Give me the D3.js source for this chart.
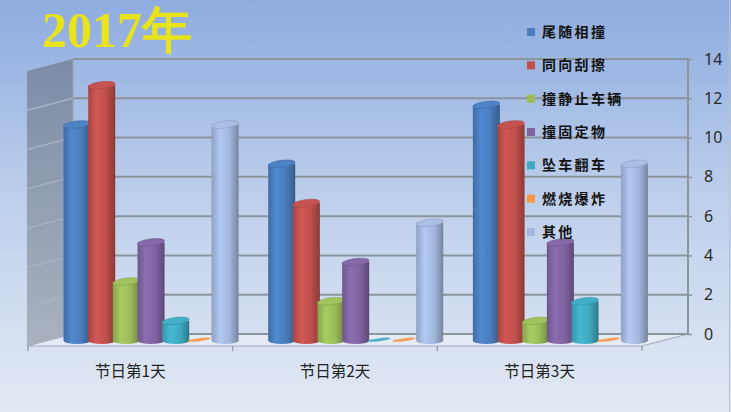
<!DOCTYPE html>
<html>
<head>
<meta charset="utf-8">
<script src="https://cdn.jsdelivr.net/npm/d3@7/dist/d3.min.js"></script>
<style>
html,body{margin:0;padding:0;overflow:hidden;}
svg{display:block;}
</style>
</head>
<body>
<svg id="chart" width="731" height="412"></svg>
<script>
// ---- data ----
const days = ["节日第1天", "节日第2天", "节日第3天"];
const seriesNames = ["尾随相撞", "同向刮擦", "撞静止车辆", "撞固定物", "坠车翻车", "燃烧爆炸", "其他"];
const rearEnd   = [11, 9, 12];
const scrape    = [13, 7, 11];
const parked    = [3, 2, 1];
const fixedObj  = [5, 4, 5];
const rollover  = [1, 0, 2];
const fire      = [0, 0, 0];
const other     = [11, 6, 9];
const yTicks = [0, 2, 4, 6, 8, 10, 12, 14];
const titleText = "2017年";

const seriesValues = [rearEnd, scrape, parked, fixedObj, rollover, fire, other];
const colors = ["#4a7dbd", "#c0504d", "#9bbb59", "#8064a2", "#3fa9c0", "#f79646", "#a3b8de"];

// ---- layout ----
const W = 731, H = 412;
const svg = d3.select("#chart");
const defs = svg.append("defs");

const frontLeft = 27, frontRight = 642, frontY0 = 346;
const depthDX = 46, depthDY = -12;
const backLeft = frontLeft + depthDX, backRight = frontRight + depthDX;

const y = d3.scaleLinear().domain([0, 14]).range([334, 59]);
const x0 = d3.scaleBand().domain(days).range([frontLeft + 1, frontRight]);
const x1 = d3.scaleBand().domain(seriesNames).range([16, x0.bandwidth() - 16]);

// background
const bg = defs.append("linearGradient").attr("id", "bg").attr("x1", 0).attr("y1", 0).attr("x2", 0).attr("y2", 1);
bg.append("stop").attr("offset", "0").attr("stop-color", "#8eacdf");
bg.append("stop").attr("offset", "0.5").attr("stop-color", "#bfd0ec");
bg.append("stop").attr("offset", "1").attr("stop-color", "#e3e9f3");
svg.append("rect").attr("width", W).attr("height", H).attr("fill", "url(#bg)");
svg.append("line").attr("x1", W - 1.5).attr("x2", W - 1.5).attr("y1", 0).attr("y2", H)
  .attr("stroke", "#b8c2cf").attr("stroke-width", 1);

// left side wall
const wallG = defs.append("linearGradient").attr("id", "wall").attr("x1", 0).attr("y1", 0).attr("x2", 0).attr("y2", 1);
wallG.append("stop").attr("offset", "0").attr("stop-color", "#7c8ca6");
wallG.append("stop").attr("offset", "1").attr("stop-color", "#a9b1bd");
svg.append("polygon")
  .attr("points", [[frontLeft, y(0) - depthDY], [frontLeft, y(14) - depthDY], [backLeft, y(14)], [backLeft, y(0)]].map(p => p.join(",")).join(" "))
  .attr("fill", "url(#wall)");

// left wall gridlines
svg.append("g").selectAll("line").data(yTicks.slice(1, -1)).join("line")
  .attr("x1", frontLeft).attr("x2", backLeft)
  .attr("y1", d => y(d) - depthDY).attr("y2", d => y(d))
  .attr("stroke", "#a7b3c4").attr("stroke-width", 1.5);

// floor
svg.append("polygon")
  .attr("points", [[frontLeft, frontY0], [frontRight, frontY0], [backRight, y(0)], [backLeft, y(0)]].map(p => p.join(",")).join(" "))
  .attr("fill", "#e4ebf5").attr("stroke", "#a4acb6").attr("stroke-width", 1.2);

// back wall gridlines
svg.append("g").selectAll("line").data(yTicks).join("line")
  .attr("x1", backLeft).attr("x2", backRight)
  .attr("y1", d => y(d)).attr("y2", d => y(d))
  .attr("stroke", "#8c949e").attr("stroke-width", 2);
svg.append("line").attr("x1", backRight).attr("x2", backRight).attr("y1", y(14)).attr("y2", y(0))
  .attr("stroke", "#8c949e").attr("stroke-width", 2);
svg.append("line").attr("x1", backLeft).attr("x2", backLeft).attr("y1", y(14)).attr("y2", y(0))
  .attr("stroke", "#9aa4b2").attr("stroke-width", 1);

// right value axis
const yAxis = d3.axisRight(y).tickValues(yTicks).tickSize(4).tickPadding(12).tickFormat(d3.format("d"));
const ya = svg.append("g").attr("transform", `translate(${backRight},0)`).call(yAxis);
ya.select(".domain").remove();
ya.selectAll("line").attr("stroke", "#8c949e").attr("stroke-width", 1.5);
ya.selectAll("text").attr("font-family", "'Noto Sans', 'DejaVu Sans', sans-serif").attr("font-size", 16).attr("fill", "#2a2a2a");

// category axis
const xAxis = d3.axisBottom(x0).tickSize(0).tickPadding(20);
const xa = svg.append("g").attr("transform", `translate(0,${frontY0})`).call(xAxis);
xa.select(".domain").remove();
xa.selectAll("text").attr("font-family", "'Noto Sans CJK SC', sans-serif").attr("font-size", 15.5).attr("fill", "#222");
// boundary ticks
const bounds = days.map(d => x0(d)).concat([x0(days[days.length - 1]) + x0.bandwidth()]);
svg.append("g").selectAll("line").data(bounds).join("line")
  .attr("x1", d => d).attr("x2", d => d).attr("y1", frontY0).attr("y2", frontY0 + 5)
  .attr("stroke", "#8c949e").attr("stroke-width", 1.2);

// cylinder gradients
colors.forEach((c, i) => {
  const base = d3.color(c);
  const g = defs.append("linearGradient").attr("id", "cyl" + i).attr("x1", 0).attr("y1", 0).attr("x2", 1).attr("y2", 0);
  g.append("stop").attr("offset", "0").attr("stop-color", base.darker(0.4));
  g.append("stop").attr("offset", "0.3").attr("stop-color", base.brighter(0.25));
  g.append("stop").attr("offset", "0.65").attr("stop-color", base);
  g.append("stop").attr("offset", "0.9").attr("stop-color", base.darker(0.6));
  g.append("stop").attr("offset", "1").attr("stop-color", base.darker(1.0));
});

// bars
const barFrac = 0.45;
const bdx = depthDX * barFrac, bdy = -depthDY * (1 - barFrac);
const barW = 27, ry = 3.5;
const barsG = svg.append("g");
days.forEach((day, di) => {
  seriesNames.forEach((s, si) => {
    const v = seriesValues[si][di];
    const cx = x0(day) + x1(s) + x1.bandwidth() / 2 + bdx;
    const yb = y(0) + bdy;
    const yt = y(v) + bdy;
    const g = barsG.append("g");
    const col = d3.color(colors[si]);
    if (v > 0) {
      g.append("path")
        .attr("d", `M${cx - barW / 2},${yt} L${cx - barW / 2},${yb} A${barW / 2},${ry} 0 0 0 ${cx + barW / 2},${yb} L${cx + barW / 2},${yt} Z`)
        .attr("fill", `url(#cyl${si})`);
      g.append("ellipse")
        .attr("cx", cx).attr("cy", yt).attr("rx", barW / 2).attr("ry", ry)
        .attr("transform", `rotate(-7,${cx},${yt})`)
        .attr("fill", col.brighter(0.1)).attr("stroke", col.darker(0.4)).attr("stroke-width", 0.6);
    } else {
      g.append("ellipse")
        .attr("cx", cx - 1).attr("cy", yb - 1).attr("rx", barW / 2 - 2).attr("ry", 1.6)
        .attr("transform", `rotate(-7,${cx},${yb})`)
        .attr("fill", col).attr("opacity", 0.9);
    }
  });
});

// legend
const legend = svg.append("g");
const legY = d3.scalePoint().domain(seriesNames).range([32, 232]);
seriesNames.forEach((s, i) => {
  legend.append("rect").attr("x", 527).attr("y", legY(s) - 4).attr("width", 8).attr("height", 8)
    .attr("fill", colors[i]);
  legend.append("text").attr("x", 542).attr("y", legY(s)).attr("dy", "0.36em")
    .attr("font-family", "'Noto Sans CJK SC', sans-serif").attr("font-weight", 700)
    .attr("font-size", 14).attr("letter-spacing", "2.3px").attr("fill", "#111").text(s);
});

// title
svg.append("text").attr("x", 42).attr("y", 47)
  .attr("font-family", "'Liberation Serif', 'Times New Roman', serif").attr("font-weight", 700)
  .attr("font-size", 50).attr("fill", "#e9e31c").text(titleText);
</script>
</body>
</html>
